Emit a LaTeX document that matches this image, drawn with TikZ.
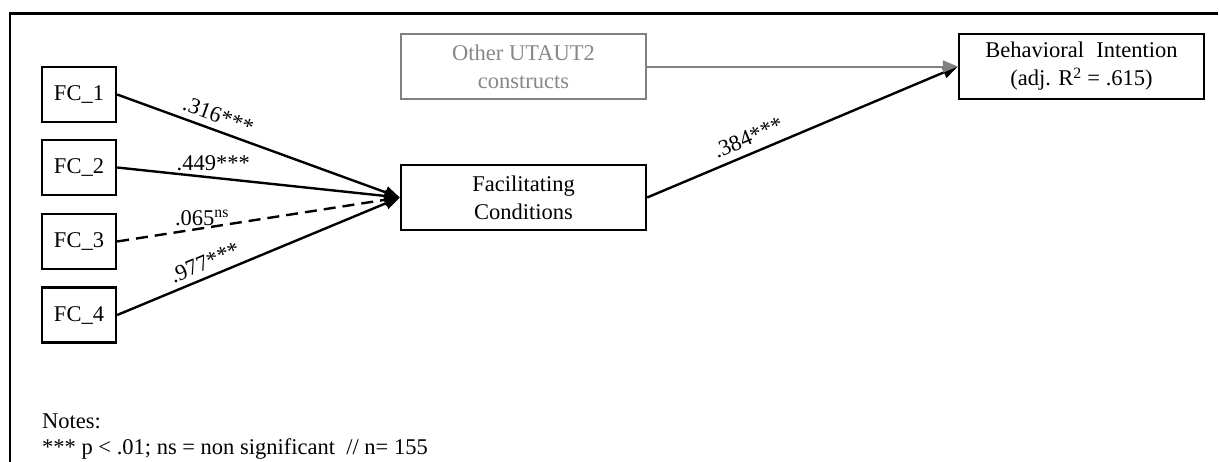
\documentclass[tikz,border=0pt]{standalone}
\usepackage{fontspec}
\setmainfont{Liberation Serif}
\usetikzlibrary{arrows.meta}
\definecolor{boxgray}{RGB}{128,128,128}
\definecolor{txtgray}{RGB}{135,135,135}
\begin{document}
\begin{tikzpicture}[x=1pt,y=-1pt,
  every node/.style={font=\fontsize{22.5}{28}\selectfont},
  ind/.style={draw, line width=2.4pt, minimum width=74pt, minimum height=55pt, inner sep=0pt},
  con/.style={draw, line width=2.4pt, minimum width=245pt, minimum height=65pt, inner sep=0pt, align=center},
  greybox/.style={con, draw=boxgray, text=txtgray, line width=2pt},
  conn/.style={line width=2.4pt, -{Triangle[length=15pt,width=12pt]}},
  lab/.style={inner sep=2pt}
]
\useasboundingbox (0,0) rectangle (1219,461);
\fill[white] (0,0) rectangle (1219,461);
% frame
\draw[line width=2.6pt, line join=miter] (10,470) -- (10,13.3) -- (1218,13.3);

% nodes
\node[ind] (fc1) at (79,94.5) {FC\_1};
\node[ind] (fc2) at (79,167.5) {FC\_2};
\node[ind] (fc3) at (79,241.5) {FC\_3};
\node[ind] (fc4) at (79,315) {FC\_4};
\node[greybox] (other) at (523.5,66.5) {Other UTAUT2\\constructs};
\node[con] (fac) at (523.5,197.5) {Facilitating\\Conditions};
\node[con] (bi) at (1081.5,66.5) {Behavioral\hspace{0.3em} Intention\\(adj. R\textsuperscript{2} = .615)};

% connectors
\draw[conn] (fc1.east) -- node[lab, pos=0.34, sloped, above=4pt] {.316***} (fac.west);
\draw[conn] (fc2.east) -- node[lab, pos=0.34, above=4pt] {.449***} (fac.west);
\draw[conn, dash pattern=on 12pt off 7pt] (fc3.east) -- node[lab, pos=0.3, anchor=base, yshift=3pt] {.065\textsuperscript{ns}} (fac.west);
\draw[conn] (fc4.east) -- node[lab, pos=0.33, sloped, above=4pt] {.977***} (fac.west);
\draw[conn] (fac.east) -- node[lab, pos=0.345, sloped, above=5pt] {.384***} (bi.west);
\draw[line width=2pt, draw=boxgray, -{Triangle[length=15pt,width=12pt,fill=boxgray]}] (other.east) -- (bi.west);

% notes
\node[anchor=base west, inner sep=0pt] (notes) at (42,428) {Notes:};
\node[anchor=base west, inner sep=0pt] (sig) at (42,454) {*** p < .01; ns = non significant\ \ // n= 155};
\end{tikzpicture}
\end{document}
